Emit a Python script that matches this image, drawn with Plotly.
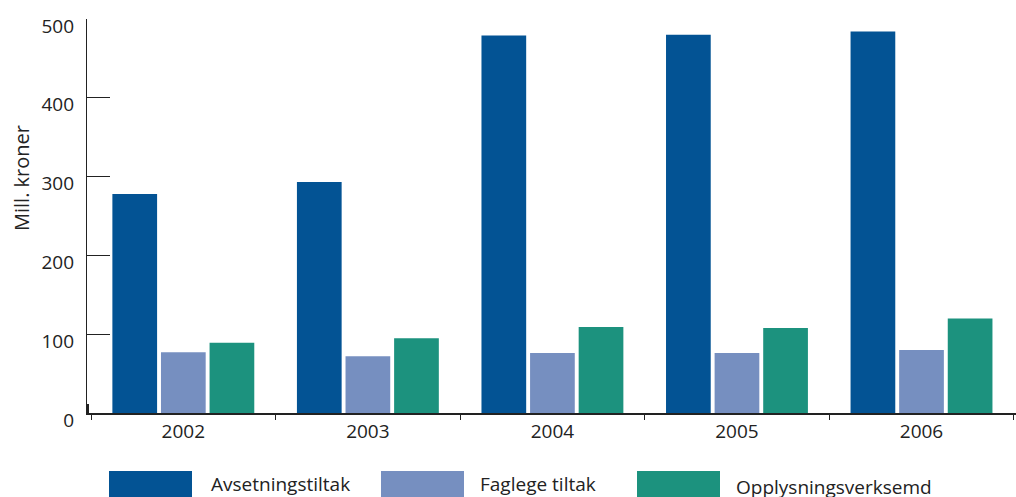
import plotly.graph_objects as go

years = ["2002", "2003", "2004", "2005", "2006"]
series_names = ["Avsetningstiltak", "Faglege tiltak", "Opplysningsverksemd"]
avsetning = [278, 293, 479, 480, 484]
faglege = [77, 72, 76, 76, 80]
opplysning = [89, 95, 109, 108, 120]
colors = ["#035394", "#768FC0", "#1C927E"]
y_ticks = [0, 100, 200, 300, 400, 500]

FONT = "Open Sans"
TXT = "#222222"

fig = go.Figure()
for name, vals, col in zip(series_names, [avsetning, faglege, opplysning], colors):
    fig.add_trace(go.Bar(x=years, y=vals, name=name, marker=dict(color=col, line=dict(width=0))))

W, H = 1016, 497
L, R, T, B = 87, 0, 19, 84
pw, ph = W - L - R, H - T - B

def px_x(p):
    return (p - L) / pw

def px_y(p):
    return (H - B - p) / ph

# legend drawn as shapes + text
leg_rect_x = [109, 381, 637]
leg_text_x = [209, 478, 734]
leg_text_y = [484, 484, 487]
for i, name in enumerate(series_names):
    fig.add_shape(type="rect", xref="paper", yref="paper",
                  x0=px_x(leg_rect_x[i]), x1=px_x(leg_rect_x[i] + 83),
                  y0=px_y(471), y1=px_y(500),
                  fillcolor=colors[i], line=dict(width=0))
    fig.add_annotation(text=name, xref="paper", yref="paper",
                       x=px_x(leg_text_x[i]), y=px_y(leg_text_y[i]),
                       xanchor="left", yanchor="middle", showarrow=False,
                       font=dict(family=FONT, size=19, color=TXT))

# small dark mark at the axis corner
fig.add_shape(type="rect", xref="paper", yref="paper",
              x0=px_x(86), x1=px_x(89), y0=px_y(413), y1=px_y(404),
              fillcolor="#222", line=dict(width=0))

fig.add_annotation(text="Mill. kroner", xref="paper", yref="paper",
                   x=px_x(21), y=px_y(178), textangle=-90,
                   xanchor="center", yanchor="middle", showarrow=False,
                   font=dict(family=FONT, size=20, color=TXT))

fig.update_layout(
    width=W, height=H,
    margin=dict(l=L, r=R, t=T, b=B, autoexpand=False),
    paper_bgcolor="white", plot_bgcolor="white",
    barmode="group", bargap=0.21, bargroupgap=0.08,
    showlegend=False,
    font=dict(family=FONT, size=19, color=TXT),
)
fig.update_xaxes(
    type="category", range=[-0.522, 4.512],
    showgrid=False, showline=True, linecolor="#222", linewidth=1.5,
    ticks="outside", tickson="boundaries", ticklen=5, tickcolor="#222",
    tickfont=dict(family=FONT, size=19, color=TXT), layer="below traces",
    automargin=False,
)
fig.update_yaxes(
    range=[0, 500], tickvals=y_ticks, showgrid=False, zeroline=False,
    showline=True, linecolor="#222", linewidth=1.2,
    ticks="inside", ticklen=23, tickcolor="#222", tickwidth=1.2,
    tickfont=dict(family=FONT, size=19, color=TXT), ticklabelstandoff=8,
    ticklabelshift=7, layer="below traces", automargin=False,
)

fig.write_html(
    "out.html",
    config={"displayModeBar": False},
    post_script="document.body.style.margin='0';document.body.style.overflow='hidden';",
)
